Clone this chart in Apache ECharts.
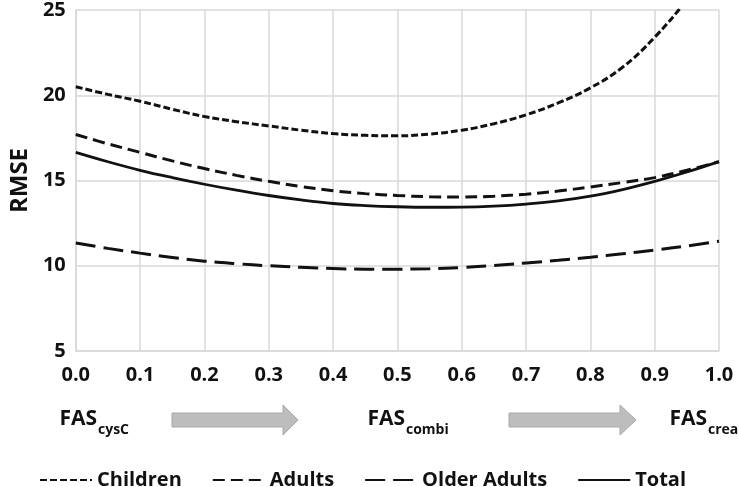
<!DOCTYPE html>
<html>
<head>
<meta charset="utf-8">
<script src="https://cdn.jsdelivr.net/npm/echarts@6/dist/echarts.min.js"></script>
<style>html,body{margin:0;padding:0;background:#fff;}#c{width:739px;height:487px;}</style>
</head>
<body>
<div id="c"></div>
<script>
var xValues = [0.0, 0.05, 0.1, 0.15, 0.2, 0.25, 0.3, 0.35, 0.4, 0.45, 0.5, 0.55, 0.6, 0.65, 0.7, 0.75, 0.8, 0.85, 0.9, 0.95, 1.0];
var children = [20.5, 20.05, 19.65, 19.18, 18.75, 18.45, 18.2, 17.95, 17.75, 17.65, 17.62, 17.72, 17.95, 18.33, 18.85, 19.55, 20.43, 21.64, 23.4, 25.6, 28.2];
var adults = [17.7, 17.15, 16.65, 16.15, 15.7, 15.3, 14.95, 14.65, 14.4, 14.23, 14.12, 14.05, 14.03, 14.08, 14.2, 14.38, 14.62, 14.88, 15.17, 15.6, 16.1];
var olderAdults = [11.33, 11.02, 10.74, 10.49, 10.27, 10.12, 10.0, 9.91, 9.84, 9.8, 9.8, 9.83, 9.9, 10.01, 10.16, 10.32, 10.5, 10.7, 10.92, 11.16, 11.44];
var total = [16.65, 16.1, 15.6, 15.17, 14.78, 14.43, 14.12, 13.86, 13.65, 13.53, 13.46, 13.43, 13.44, 13.5, 13.62, 13.8, 14.08, 14.47, 14.95, 15.5, 16.11];
var seriesNames = ['Children', 'Adults', 'Older Adults', 'Total'];
var yTicks = [5, 10, 15, 20, 25];

function pairs(ys) { return xValues.map(function (x, i) { return [x, ys[i]]; }); }

var FONT = 'Open Sans';
var chart = echarts.init(document.getElementById('c'), null, { renderer: 'canvas' });

function mkSeries(name, ys, dash, width) {
  return {
    name: name, type: 'line', data: pairs(ys), smooth: 0.4, symbol: 'none',
    clip: true,
    lineStyle: { color: '#111', width: width, type: dash, cap: 'butt' },
    itemStyle: { color: '#111' }
  };
}

function arrow(x0, x1, tip) {
  return {
    type: 'polygon',
    shape: { points: [[x0, 413], [x1, 413], [x1, 405], [tip, 420], [x1, 435], [x1, 427], [x0, 427]] },
    style: { fill: '#bdbdbd', stroke: '#a9a9a9', lineWidth: 1 }
  };
}
function fasLabel(xJoin, sub) {
  return [
    { type: 'text', x: xJoin, y: 419, style: { text: 'FAS', font: 'bold 21px "' + FONT + '"', fill: '#111', align: 'right', verticalAlign: 'middle' } },
    { type: 'text', x: xJoin + 1, y: 430, style: { text: sub, font: 'bold 14px "' + FONT + '"', fill: '#111', align: 'left', verticalAlign: 'middle' } }
  ];
}

var option = {
  backgroundColor: '#fff',
  animation: false,
  grid: { left: 72, right: 20, top: 9.4, bottom: 136, containLabel: false },
  xAxis: {
    type: 'value', min: 0, max: 1, interval: 0.1,
    axisLine: { show: true, lineStyle: { color: '#d9d9d9', width: 1.5 } },
    axisTick: { show: false },
    splitLine: { show: true, lineStyle: { color: '#d9d9d9', width: 1.5 } },
    axisLabel: { margin: 14, color: '#111', fontFamily: FONT, fontWeight: 'bold', fontSize: 20,
      formatter: function (v) { return v.toFixed(1); } }
  },
  yAxis: {
    type: 'value', min: yTicks[0], max: yTicks[yTicks.length - 1], interval: 5,
    name: 'RMSE', nameLocation: 'middle', nameGap: 34, nameRotate: 90,
    nameTextStyle: { color: '#111', fontFamily: FONT, fontWeight: 'bold', fontSize: 24 },
    axisLine: { show: true, lineStyle: { color: '#d9d9d9', width: 1.5 } },
    axisTick: { show: false },
    splitLine: { show: true, lineStyle: { color: '#d9d9d9', width: 1.5 } },
    axisLabel: { margin: 10, color: '#111', fontFamily: FONT, fontWeight: 'bold', fontSize: 20 }
  },
  legend: {
    data: seriesNames, left: 34, top: 465, itemWidth: 52, itemHeight: 14, itemGap: 30,
    itemStyle: { opacity: 0 },
    textStyle: { color: '#111', fontFamily: FONT, fontWeight: 'bold', fontSize: 20 }
  },
  series: [
    mkSeries(seriesNames[0], children, [7, 3], 3),
    mkSeries(seriesNames[1], adults, [12, 6], 3),
    mkSeries(seriesNames[2], olderAdults, [20, 8], 3),
    mkSeries(seriesNames[3], total, 'solid', 2.8)
  ],
  graphic: [].concat(
    fasLabel(97, 'cysC'),
    [arrow(172, 283, 298)],
    fasLabel(405, 'combi'),
    [arrow(509, 620, 636)],
    fasLabel(707, 'crea')
  )
};
chart.setOption(option);
</script>
</body>
</html>
